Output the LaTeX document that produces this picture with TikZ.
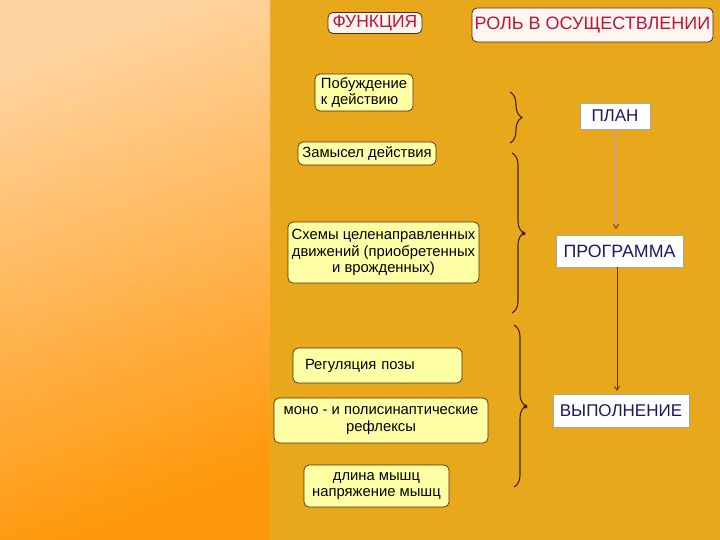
\documentclass[tikz,border=0pt]{standalone}
\usepackage{fontspec}
\setmainfont{Liberation Sans}
\usetikzlibrary{arrows.meta,decorations.pathreplacing}
\definecolor{bggold}{RGB}{231,168,28}
\definecolor{panellight}{RGB}{255,212,160}
\definecolor{paneldark}{RGB}{255,152,10}
\definecolor{boxyellow}{RGB}{255,255,165}
\definecolor{headfill}{RGB}{255,246,242}
\definecolor{headred}{RGB}{190,20,55}
\definecolor{navytext}{RGB}{25,25,100}
\definecolor{edgebrown}{RGB}{80,40,15}
\definecolor{bracebrown}{RGB}{75,30,10}
\definecolor{lightline}{RGB}{215,160,140}
\definecolor{darkline}{RGB}{110,35,20}
\tikzset{
  headbox/.style={draw=edgebrown, line width=0.8pt, fill=headfill, rounded corners=5pt,
    text=headred, inner sep=0pt, font=\fontsize{17.5}{19}\selectfont},
  funcbox/.style={draw=edgebrown, line width=0.7pt, fill=boxyellow, rounded corners=5pt,
    text=black, inner sep=0pt, font=\fontsize{14.8}{16.7}\selectfont},
  rolebox/.style={draw=gray!70, line width=0.5pt, fill=white, text=navytext,
    inner sep=0pt, font=\fontsize{17}{19}\selectfont},
  bracket/.style={draw=bracebrown, line width=1.1pt,
    decorate, decoration={brace, amplitude=12pt}},
  tipdot/.style={fill=bracebrown},
  flowarrow/.style={-{Straight Barb[length=4pt,width=5pt,color=darkline,line width=0.8pt]}}
}
\begin{document}
\begin{tikzpicture}[x=1pt,y=-1pt]
\useasboundingbox (0,0) rectangle (720,540);
% backgrounds
\fill[bggold] (0,0) rectangle (720,540);
\shade[top color=panellight, bottom color=paneldark, shading angle=20] (0,0) rectangle (270,540);
% headers
\node[headbox, minimum width=94pt, minimum height=21pt] (func) at (375,23) {ФУНКЦИЯ};
\node[headbox, minimum width=241pt, minimum height=34pt, font=\fontsize{18}{20}\selectfont] (role) at (592.5,25) {РОЛЬ В ОСУЩЕСТВЛЕНИИ};
% function boxes
\node[funcbox, minimum width=98pt, minimum height=37pt, align=left] (pob) at (364,92.5) {Побуждение\\к действию};
\node[funcbox, minimum width=138pt, minimum height=23pt] (zam) at (367,153.5) {Замысел действия};
\node[funcbox, minimum width=191pt, minimum height=61pt, align=center] (shem) at (383.5,252.5) {Схемы целенаправленных\\движений (приобретенных\\и врожденных)};
\node[funcbox, minimum width=169pt, minimum height=35pt, text width=145pt, align=left] (reg) at (377.5,365.5) {Регуляция позы};
\node[funcbox, minimum width=214pt, minimum height=45pt, align=center] (mono) at (381,420.5) {моно - и полисинаптические\\рефлексы};
\node[funcbox, minimum width=145pt, minimum height=42pt, align=center] (dlina) at (376.5,486) {длина мышц\\напряжение мышц};
% role boxes
\node[rolebox, minimum width=70pt, minimum height=26pt] (plan) at (615,116) {ПЛАН};
\node[rolebox, minimum width=127pt, minimum height=32pt, font=\fontsize{17.8}{19}\selectfont] (prog) at (619.5,251) {ПРОГРАММА};
\node[rolebox, minimum width=136pt, minimum height=33pt] (vyp) at (621,410.5) {ВЫПОЛНЕНИЕ};
% arrows
\coordinate (a1s) at (616,129.5);
\coordinate (a1e) at (616,229);
\coordinate (a2s) at (617,267);
\coordinate (a2e) at (617,391);
\draw[flowarrow, draw=lightline, line width=2pt] (a1s) -- (a1e);
\draw[flowarrow, draw=darkline, line width=0.9pt] (a2s) -- (a2e);
% braces
\coordinate (b1t) at (510,92);
\coordinate (b1b) at (510,143);
\coordinate (b2t) at (512,153);
\coordinate (b2b) at (512,313);
\coordinate (b3t) at (514,325);
\coordinate (b3b) at (514,487);
\draw[bracket] (b1t) -- (b1b);
\draw[bracket] (b2t) -- (b2b);
\draw[bracket] (b3t) -- (b3b);
\fill[tipdot] (523.5,233.5) circle (2pt);
\fill[tipdot] (525.5,406.5) circle (2pt);
\end{tikzpicture}
\end{document}
